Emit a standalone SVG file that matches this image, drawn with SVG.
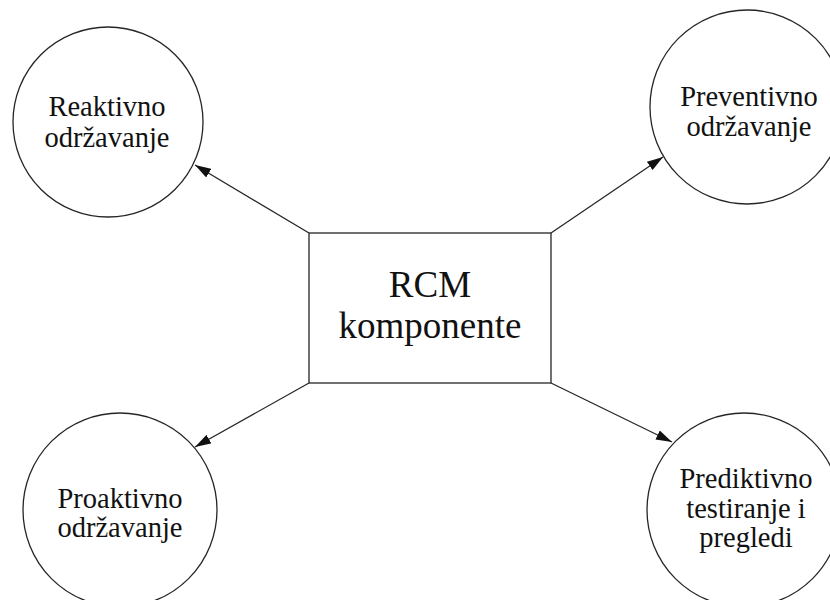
<svg xmlns="http://www.w3.org/2000/svg" width="830" height="600" viewBox="0 0 830 600">
<style>
  .node { fill: #ffffff; stroke: #262626; stroke-width: 1.3; }
  .lbl { font-family: "Liberation Serif", "Times New Roman", serif; font-size: 28.5px; fill: #111111; text-anchor: middle; }
  .big { font-family: "Liberation Serif", "Times New Roman", serif; font-size: 37px; fill: #111111; text-anchor: middle; }
  .edge { stroke: #262626; stroke-width: 1.3; fill: none; marker-end: url(#arrow); }
</style>
<defs>
  <marker id="arrow" viewBox="0 0 16 10" refX="16" refY="5" markerWidth="16" markerHeight="10" markerUnits="userSpaceOnUse" orient="auto">
    <path d="M0,0 L16,5 L0,10 Z" fill="#111111"/>
  </marker>
</defs>
<rect width="830" height="600" fill="#ffffff"/>
<g id="connectors">
  <line class="edge" x1="309" y1="233" x2="195" y2="165"/>
  <line class="edge" x1="551" y1="233" x2="663" y2="157"/>
  <line class="edge" x1="551" y1="383" x2="672" y2="442"/>
  <line class="edge" x1="309" y1="383" x2="195" y2="447"/>
</g>
<g id="center">
  <rect class="node" x="309" y="233" width="242" height="150"/>
  <text class="big" x="430" y="297">RCM</text>
  <text class="big" x="430" y="338">komponente</text>
</g>
<g id="reaktivno">
  <circle class="node" cx="108" cy="122" r="95"/>
  <text class="lbl" x="107" y="116">Reaktivno</text>
  <text class="lbl" x="107" y="147">održavanje</text>
</g>
<g id="preventivno">
  <circle class="node" cx="747" cy="107" r="97"/>
  <text class="lbl" x="749" y="106">Preventivno</text>
  <text class="lbl" x="749" y="136">održavanje</text>
</g>
<g id="prediktivno">
  <circle class="node" cx="744" cy="510" r="97"/>
  <text class="lbl" x="746" y="488">Prediktivno</text>
  <text class="lbl" x="746" y="518">testiranje i</text>
  <text class="lbl" x="746" y="547">pregledi</text>
</g>
<g id="proaktivno">
  <circle class="node" cx="120" cy="510" r="97"/>
  <text class="lbl" x="120" y="508">Proaktivno</text>
  <text class="lbl" x="120" y="537">održavanje</text>
</g>
</svg>
